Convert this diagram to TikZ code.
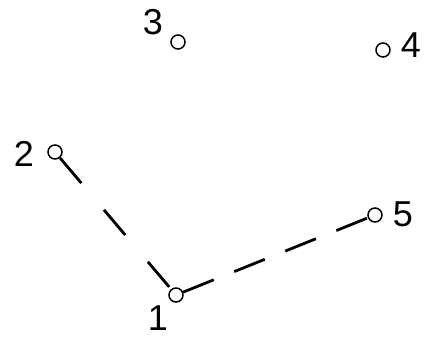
\documentclass[tikz,border=0pt]{standalone}
\usepackage{fontspec}
\setmainfont{Liberation Sans}
\begin{document}
\begin{tikzpicture}[x=1pt,y=-1pt,
  pt/.style={circle,draw,line width=1.5pt,inner sep=0pt,minimum size=14pt},
  lab/.style={inner sep=0pt,font=\fontsize{36}{36}\selectfont},
  link/.style={line width=2.8pt}]
\useasboundingbox (0,0) rectangle (424,337);
\node[pt] (n1) at (176,295) {};
\node[pt] (n2) at (55,152) {};
\node[pt] (n3) at (178,42) {};
\node[pt] (n4) at (383,50) {};
\node[pt] (n5) at (375,215) {};
\node[lab] (l1) at (158,318) {1};
\node[lab] (l2) at (24,154) {2};
\node[lab] (l3) at (153,22) {3};
\node[lab] (l4) at (411,45) {4};
\node[lab] (l5) at (403,214) {5};
\draw[link,dash pattern=on 33pt off 35pt] (n2) -- (n1);
\draw[link,dash pattern=on 33pt off 22pt] (n1) -- (n5);
\end{tikzpicture}
\end{document}
